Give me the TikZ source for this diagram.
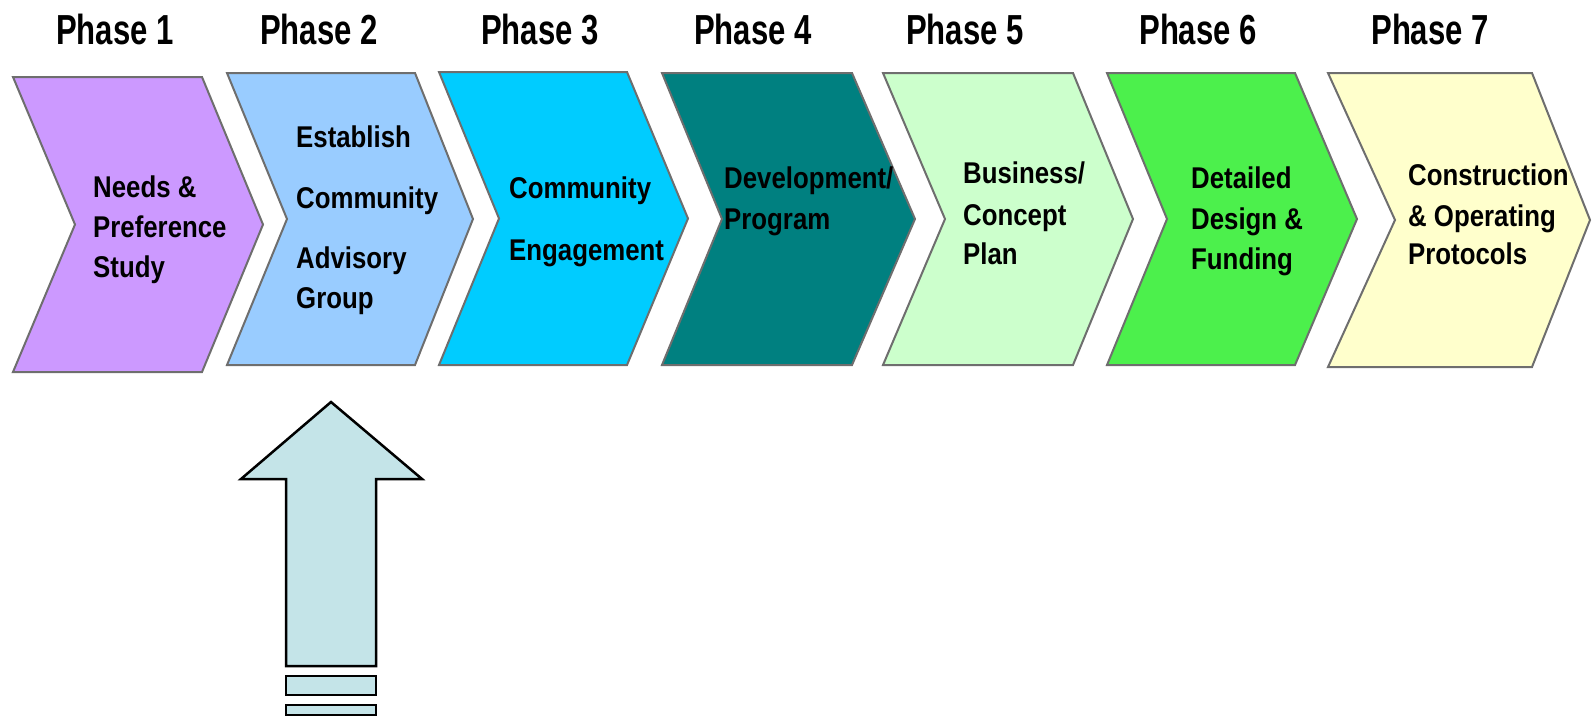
\documentclass[tikz,border=0pt]{standalone}
\usepackage{fontspec}
\newfontfamily\phasefont{Liberation Sans}[FakeStretch=0.74]
\newfontfamily\bodyfont{Liberation Sans}[FakeStretch=0.86]
\definecolor{c1}{HTML}{CC99FF}
\definecolor{c2}{HTML}{99CCFF}
\definecolor{c3}{HTML}{00CCFF}
\definecolor{c4}{HTML}{008080}
\definecolor{c5}{HTML}{CCFFCC}
\definecolor{c6}{HTML}{4CF04C}
\definecolor{c7}{HTML}{FFFFCC}
\definecolor{arrowfill}{HTML}{C4E4E8}
\definecolor{edge}{HTML}{6E6E6E}
\newcommand\mychev[7]{%
  \filldraw[chev,fill=#7] (#1,#5) -- (#2,#5) -- (#3,{(#5+#6)/2}) -- (#2,#6) -- (#1,#6) -- (#4,{(#5+#6)/2}) -- cycle;}
\begin{document}
\begin{tikzpicture}[x=1pt,y=-1pt,
  chev/.style={draw=edge,line width=2pt,line join=miter},
  phase/.style={inner sep=0pt,anchor=base,font=\phasefont\bfseries\fontsize{42}{42}\selectfont},
  lbl/.style={inner sep=0pt,anchor=base west,font=\bodyfont\bfseries\fontsize{30}{30}\selectfont},
  bigarrow/.style={draw=black,line width=2.5pt,fill=arrowfill,line join=miter}]
\useasboundingbox (0,0) rectangle (1592,717);
% phase headings
\node[phase] (p1) at (115,45) {Phase 1};
\node[phase] (p2) at (319,45) {Phase 2};
\node[phase] (p3) at (540,45) {Phase 3};
\node[phase] (p4) at (753,45) {Phase 4};
\node[phase] (p5) at (965,45) {Phase 5};
\node[phase] (p6) at (1198,45) {Phase 6};
\node[phase] (p7) at (1430,45) {Phase 7};
% chevrons
\mychev{13}{202}{263}{75}{77}{372}{c1}
\mychev{227}{415}{473}{287}{73}{365}{c2}
\mychev{439}{627}{688}{499}{72}{365}{c3}
\mychev{662}{852}{915}{722}{73}{365}{c4}
\mychev{883}{1073}{1133}{945}{73}{365}{c5}
\mychev{1107}{1295}{1357}{1167}{73}{365}{c6}
\mychev{1328}{1532}{1590}{1395}{73}{367}{c7}
% chevron texts
\node[lbl] (t1a) at (93,197) {Needs \&};
\node[lbl] (t1b) at (93,237) {Preference};
\node[lbl] (t1c) at (93,277) {Study};
\node[lbl] (t2a) at (296,147) {Establish};
\node[lbl] (t2b) at (296,208) {Community};
\node[lbl] (t2c) at (296,268) {Advisory};
\node[lbl] (t2d) at (296,308) {Group};
\node[lbl] (t3a) at (509,198) {Community};
\node[lbl] (t3b) at (509,260) {Engagement};
\node[lbl] (t4a) at (724,188) {Development/};
\node[lbl] (t4b) at (724,229) {Program};
\node[lbl] (t5a) at (963,183) {Business/};
\node[lbl] (t5b) at (963,225) {Concept};
\node[lbl] (t5c) at (963,264) {Plan};
\node[lbl] (t6a) at (1191,188) {Detailed};
\node[lbl] (t6b) at (1191,229) {Design \&};
\node[lbl] (t6c) at (1191,269) {Funding};
\node[lbl] (t7a) at (1408,185) {Construction};
\node[lbl] (t7b) at (1408,226) {\& Operating};
\node[lbl] (t7c) at (1408,264) {Protocols};
% upward block arrow
\draw[bigarrow] (331,402) -- (422,479) -- (376,479) -- (376,666) -- (286,666) -- (286,479) -- (241,479) -- cycle;
\draw[bigarrow] (286,676) rectangle (376,695);
\draw[bigarrow] (286,705) rectangle (376,715);
\end{tikzpicture}
\end{document}
